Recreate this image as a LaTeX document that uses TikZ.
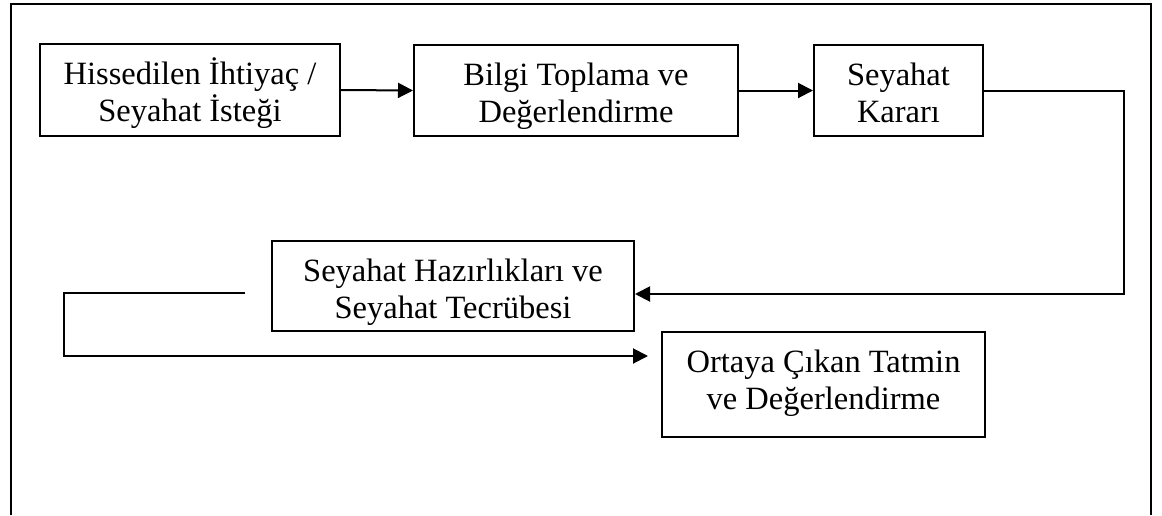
\documentclass[tikz,border=0pt]{standalone}
\usepackage{fontspec}
\setmainfont{Liberation Serif}
\usetikzlibrary{arrows.meta}
% two centred lines, first baseline 40pt below the top edge,
% #3 = space left below the last baseline
\newcommand{\twolines}[3]{\rule{0pt}{40pt}#1\\#2\rule[-#3]{0pt}{#3}}
\begin{document}
\begin{tikzpicture}[x=1pt,y=-1pt,
  stepbox/.style={draw, line width=2pt, align=center, inner xsep=0pt,
    inner ysep=0pt, anchor=north, font=\fontsize{32.5}{37}\selectfont},
  flow/.style={line width=2pt, -{Triangle[length=15pt,width=15pt]}},
  plain/.style={line width=2pt}]
  \useasboundingbox (0,0) rectangle (1162,515);
  % outer frame, open at the bottom
  \draw[plain] (11,515) -- (11,4) -- (1151,4) -- (1151,515);

  % process steps
  \node[stepbox, minimum width=300pt] (need) at (190,43)
    {\twolines{Hissedilen İhtiyaç /}{Seyahat İsteği}{15pt}};
  \node[stepbox, minimum width=324pt] (info) at (576,44)
    {\twolines{Bilgi Toplama ve}{Değerlendirme}{14pt}};
  \node[stepbox, minimum width=169pt] (decide) at (898.5,44)
    {\twolines{Seyahat}{Kararı}{14pt}};
  \node[stepbox, minimum width=362pt] (trip) at (453,240)
    {\twolines{Seyahat Hazırlıkları ve}{Seyahat Tecrübesi}{13pt}};
  \node[stepbox, minimum width=323pt] (result) at (823.5,331)
    {\twolines{Ortaya Çıkan Tatmin}{ve Değerlendirme}{28pt}};

  % connectors
  \draw[flow] (need.east) -- (info.west);
  \draw[flow] (info.east) -- (decide.west);

  \coordinate (rturn) at (1124,294);
  \draw[flow] (decide.east) -| (rturn) -- (trip.east |- rturn);

  \coordinate (loopstart) at (245,293);
  \coordinate (lturn) at (64,356);
  \coordinate (loopend) at (648,356);
  \draw[flow] (loopstart) -| (lturn) -- (loopend);
\end{tikzpicture}
\end{document}
